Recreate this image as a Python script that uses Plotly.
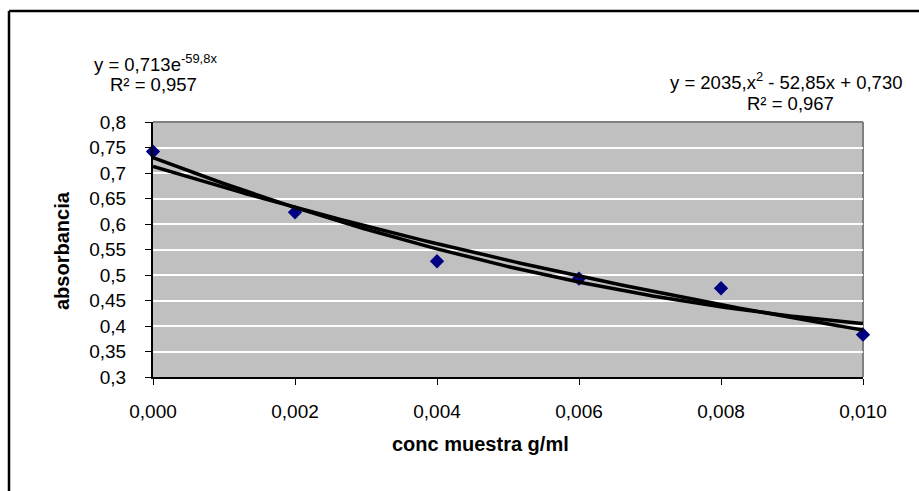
import numpy as np
import plotly.graph_objects as go

# ---- data ----
conc = [0.000, 0.002, 0.004, 0.006, 0.008, 0.010]
absorbancia = [0.742, 0.623, 0.527, 0.493, 0.474, 0.383]

# trendline coefficients as shown on the chart
exp_coef = [0.713, -59.8]            # y = a * e^(b x)
poly_coef = [2035.0, -52.85, 0.730]  # y = c2 x^2 + c1 x + c0

x_tick_vals = [0.000, 0.002, 0.004, 0.006, 0.008, 0.010]
x_tick_labels = ["0,000", "0,002", "0,004", "0,006", "0,008", "0,010"]
y_tick_vals = [0.3, 0.35, 0.4, 0.45, 0.5, 0.55, 0.6, 0.65, 0.7, 0.75, 0.8]
y_tick_labels = ["0,3", "0,35", "0,4", "0,45", "0,5", "0,55", "0,6", "0,65", "0,7", "0,75", "0,8"]

# ---- layout geometry (pixels) ----
W, H = 919, 491
L, R, T, B = 153, 863, 122, 377


def px(xp):
    return (xp - L) / (R - L)


def py(yp):
    return (B - yp) / (B - T)


FONT = "Liberation Sans, Arial, sans-serif"

x_fit = np.linspace(min(conc), max(conc), 200)
y_exp = exp_coef[0] * np.exp(exp_coef[1] * x_fit)
y_poly = np.polyval(poly_coef, x_fit)

fig = go.Figure()
fig.add_trace(go.Scatter(
    x=conc, y=absorbancia, mode="markers",
    marker=dict(symbol="diamond", size=11, color="#000080", line=dict(width=0)),
    cliponaxis=False, showlegend=False))
fig.add_trace(go.Scatter(x=x_fit, y=y_exp, mode="lines",
                         line=dict(color="black", width=3.5), showlegend=False))
fig.add_trace(go.Scatter(x=x_fit, y=y_poly, mode="lines",
                         line=dict(color="black", width=3.5), showlegend=False))

fig.update_layout(
    width=W, height=H,
    margin=dict(l=L, r=W - R, t=T, b=H - B, pad=0),
    paper_bgcolor="white", plot_bgcolor="#C0C0C0",
    font=dict(family=FONT, size=18, color="black"),
    showlegend=False,
)
fig.update_xaxes(
    range=[0, 0.010], tickvals=x_tick_vals, ticktext=x_tick_labels,
    showgrid=False, zeroline=False, automargin=False,
    showline=True, linecolor="black", linewidth=2,
    ticks="outside", ticklen=6, tickwidth=1, tickcolor="black",
    ticklabelstandoff=10, tickfont=dict(size=19),
)
fig.update_yaxes(
    range=[0.3, 0.8], tickvals=y_tick_vals, ticktext=y_tick_labels,
    showgrid=True, gridcolor="white", gridwidth=1.5, zeroline=False, automargin=False,
    showline=True, linecolor="black", linewidth=2,
    ticks="outside", ticklen=6, tickwidth=1, tickcolor="black",
    ticklabelstandoff=15, tickfont=dict(size=19),
)

shapes = [
    # grey top/right plot border
    dict(type="line", xref="paper", yref="paper", x0=0, x1=1, y0=1, y1=1,
         line=dict(color="#808080", width=2), layer="between"),
    dict(type="line", xref="paper", yref="paper", x0=1, x1=1, y0=0, y1=1,
         line=dict(color="#808080", width=2), layer="between"),
    # outer chart frame (left and top)
    dict(type="line", xref="paper", yref="paper", x0=px(9), x1=px(9), y0=py(11), y1=py(H + 10),
         line=dict(color="black", width=2.5)),
    dict(type="line", xref="paper", yref="paper", x0=px(9), x1=px(W + 10), y0=py(11), y1=py(11),
         line=dict(color="black", width=2.5)),
]
fig.update_layout(shapes=shapes)

ann = [
    dict(text="y = 0,713e<sup>-59,8x</sup>", x=px(155), y=py(63)),
    dict(text="R² = 0,957", x=px(153), y=py(84)),
    dict(text="y = 2035,x<sup>2</sup> - 52,85x + 0,730", x=px(786), y=py(81)),
    dict(text="R² = 0,967", x=px(790), y=py(103)),
]
for a in ann:
    fig.add_annotation(xref="paper", yref="paper", showarrow=False,
                       xanchor="center", yanchor="middle",
                       font=dict(family=FONT, size=18.5, color="black"), **a)

fig.add_annotation(text="<b>conc muestra g/ml</b>", xref="paper", yref="paper",
                   x=px(480), y=py(444), showarrow=False, xanchor="center", yanchor="middle",
                   font=dict(family=FONT, size=20, color="black"))
fig.add_annotation(text="<b>absorbancia</b>", xref="paper", yref="paper",
                   x=px(62), y=py(251), showarrow=False, textangle=-90,
                   xanchor="center", yanchor="middle",
                   font=dict(family=FONT, size=20, color="black"))

fig.write_html("out.html", config={"displayModeBar": False},
               post_script="document.body.style.margin='0';document.body.style.overflow='hidden';")
